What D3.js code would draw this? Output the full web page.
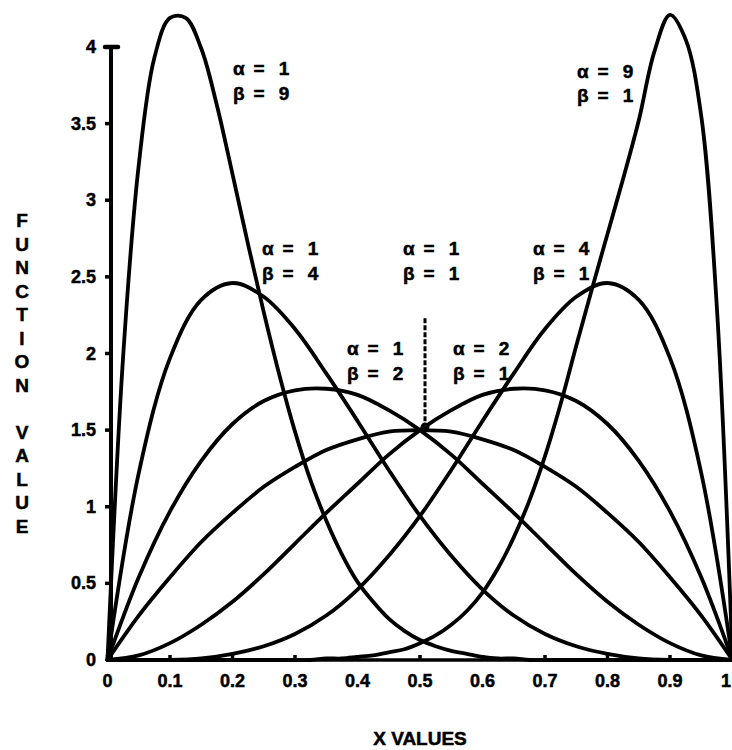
<!DOCTYPE html>
<html>
<head>
<meta charset="utf-8">
<script src="https://cdn.jsdelivr.net/npm/d3@7/dist/d3.min.js"></script>
<style>
  html, body { margin: 0; padding: 0; background: #fff; }
  svg { display: block; }
  text { font-family: "Liberation Sans", Arial, sans-serif; font-weight: bold; fill: #000; stroke: #000; stroke-width: 0.5px; }
</style>
</head>
<body>
<svg id="chart" width="732" height="750"></svg>
<script>
// ---------- data ----------
const xFine = [0,0.025,0.05,0.075,0.1,0.125,0.15,0.175,0.2,0.225,0.25,0.275,0.3,0.325,0.35,0.375,0.4,0.425,0.45,0.475,0.5,
               0.525,0.55,0.575,0.6,0.625,0.65,0.675,0.7,0.725,0.75,0.775,0.8,0.825,0.85,0.875,0.9,0.925,0.95,0.975,1];
const xCoarse = [0,0.05,0.1,0.15,0.2,0.25,0.3,0.35,0.4,0.45,0.5,0.55,0.6,0.65,0.7,0.75,0.8,0.85,0.9,0.95,1];

// alpha = 1, beta = 9
const seriesA1B9 = [0,1.98,3.23,3.93,4.19,4.19,3.99,3.62,3.17,2.71,2.27,1.86,1.49,1.17,0.91,0.69,0.51,0.38,0.27,0.19,0.13,
                    0.09,0.06,0.04,0.02,0.01,0.01,0,0,0,0,0,0,0,0,0,0,0,0,0,0];
// alpha = 9, beta = 1
const seriesA9B1 = [0,0,0,0,0,0,0,0,0,0,0,0,0,0,0.01,0.01,0.02,0.03,0.05,0.07,
                    0.11,0.16,0.23,0.32,0.44,0.60,0.80,1.04,1.33,1.67,2.05,2.42,2.78,3.14,3.52,3.97,4.21,4.05,3.55,2.30,0];
// alpha = 1, beta = 4
const seriesA1B4 = [0,1.22,1.97,2.35,2.46,2.37,2.16,1.87,1.56,1.24,0.94,0.68,0.46,0.29,0.17,0.09,0.04,0.01,0,0,0];
// alpha = 4, beta = 1
const seriesA4B1 = [0,0,0,0.01,0.04,0.09,0.17,0.29,0.46,0.68,0.94,1.24,1.56,1.87,2.16,2.37,2.46,2.35,1.97,1.22,0];
// alpha = 1, beta = 2
const seriesA1B2 = [0,0.54,0.97,1.30,1.54,1.69,1.76,1.77,1.73,1.63,1.50,1.34,1.15,0.96,0.76,0.56,0.38,0.23,0.11,0.03,0];
// alpha = 2, beta = 1
const seriesA2B1 = [0,0.03,0.11,0.23,0.38,0.56,0.76,0.96,1.15,1.34,1.50,1.63,1.73,1.77,1.76,1.69,1.54,1.30,0.97,0.54,0];
// alpha = 1, beta = 1
const seriesA1B1 = [0,0.29,0.54,0.77,0.96,1.13,1.26,1.37,1.44,1.49,1.50,1.49,1.44,1.37,1.26,1.13,0.96,0.77,0.54,0.29,0];

const xTickValues = [0,0.1,0.2,0.3,0.4,0.5,0.6,0.7,0.8,0.9,1];
const xTickLabels = ["0","0.1","0.2","0.3","0.4","0.5","0.6","0.7","0.8","0.9","1"];
const yTickValues = [0,0.5,1,1.5,2,2.5,3,3.5,4];
const yTickLabels = ["0","0.5","1","1.5","2","2.5","3","3.5","4"];

const paramLabels = [
  { a: "1", b: "9" }, { a: "9", b: "1" }, { a: "1", b: "4" }, { a: "1", b: "1" },
  { a: "4", b: "1" }, { a: "1", b: "2" }, { a: "2", b: "1" }
];
const pointerX = 0.508, pointerTop = 2.23, pointerBottom = 1.52;

// ---------- layout ----------
const svg = d3.select("#chart");
const x = d3.scaleLinear().domain([0, 1]).range([107.5, 732.5]);
const y = d3.scaleLinear().domain([0, 4]).range([660, 47]);
const axisX = 111;

const curves = [
  { xs: xFine, ys: seriesA1B9 }, { xs: xFine, ys: seriesA9B1 },
  { xs: xCoarse, ys: seriesA1B4 }, { xs: xCoarse, ys: seriesA4B1 },
  { xs: xCoarse, ys: seriesA1B2 }, { xs: xCoarse, ys: seriesA2B1 },
  { xs: xCoarse, ys: seriesA1B1 }
];
const line = d3.line().x(d => x(d[0])).y(d => y(Math.max(0, d[1]))).curve(d3.curveCatmullRom.alpha(0.5));

svg.append("g").selectAll("path").data(curves).join("path")
  .attr("d", c => line(c.xs.map((v, i) => [v, c.ys[i]])))
  .attr("fill", "none").attr("stroke", "#000").attr("stroke-width", 3.8)
  .attr("stroke-linejoin", "round").attr("stroke-linecap", "round");

// x axis
svg.append("line").attr("x1", x(0)).attr("x2", x(1)).attr("y1", y(0)).attr("y2", y(0))
  .attr("stroke", "#000").attr("stroke-width", 3.5);
svg.append("g").selectAll("line").data(xTickValues).join("line")
  .attr("x1", d => x(d)).attr("x2", d => x(d)).attr("y1", y(0)).attr("y2", y(0) - 5)
  .attr("stroke", "#000").attr("stroke-width", 3.5);
svg.append("g").selectAll("text").data(xTickValues).join("text")
  .attr("x", d => d === 1 ? 731 : x(d)).attr("y", 687)
  .attr("text-anchor", d => d === 1 ? "end" : "middle")
  .style("font-size", "18px").text((d, i) => xTickLabels[i]);

// y axis
svg.append("line").attr("x1", axisX).attr("x2", axisX).attr("y1", y(0)).attr("y2", y(4))
  .attr("stroke", "#000").attr("stroke-width", 4);
svg.append("line").attr("x1", axisX - 6).attr("x2", axisX + 7).attr("y1", y(4)).attr("y2", y(4))
  .attr("stroke", "#000").attr("stroke-width", 4.5).attr("stroke-linecap", "round");
svg.append("g").selectAll("line").data(yTickValues.filter(v => v > 0 && v < 4)).join("line")
  .attr("x1", axisX).attr("x2", axisX - 6).attr("y1", d => y(d)).attr("y2", d => y(d))
  .attr("stroke", "#000").attr("stroke-width", 3.5);
svg.append("g").selectAll("text").data(yTickValues).join("text")
  .attr("x", 96).attr("y", d => y(d) + 6).attr("text-anchor", "end")
  .style("font-size", "18px").text((d, i) => yTickLabels[i]);

// axis titles
const yTitle = "FUNCTION VALUE".split("");
svg.append("g").selectAll("text").data(yTitle).join("text")
  .attr("x", 22).attr("y", (d, i) => 227 + i * 23.5).attr("text-anchor", "middle")
  .style("font-size", "19px").text(d => d);
svg.append("text").attr("x", 420).attr("y", 745).attr("text-anchor", "middle")
  .style("font-size", "19px").text("X VALUES");

// parameter labels
const labelPos = [
  [233, 75, 100], [577, 78, 102], [262, 255, 280], [403, 255, 280],
  [533, 255, 280], [347, 355, 380], [453, 355, 380]
];
const lg = svg.append("g");
paramLabels.forEach((p, i) => {
  const [lx, b1, b2] = labelPos[i];
  [["α", p.a, b1], ["β", p.b, b2]].forEach(([sym, val, base]) => {
    lg.append("text").attr("x", lx).attr("y", base).style("font-size", "19px").text(sym);
    lg.append("text").attr("x", lx + 26).attr("y", base).attr("text-anchor", "middle").style("font-size", "19px").text("=");
    lg.append("text").attr("x", lx + 51).attr("y", base).attr("text-anchor", "middle").style("font-size", "19px").text(val);
  });
});

// pointer to the common point
svg.append("line").attr("x1", x(pointerX)).attr("x2", x(pointerX))
  .attr("y1", y(pointerTop)).attr("y2", y(pointerBottom))
  .attr("stroke", "#000").attr("stroke-width", 3).attr("stroke-dasharray", "5,2");
svg.append("circle").attr("cx", x(pointerX)).attr("cy", y(pointerBottom)).attr("r", 4.5).attr("fill", "#000");
</script>
</body>
</html>
